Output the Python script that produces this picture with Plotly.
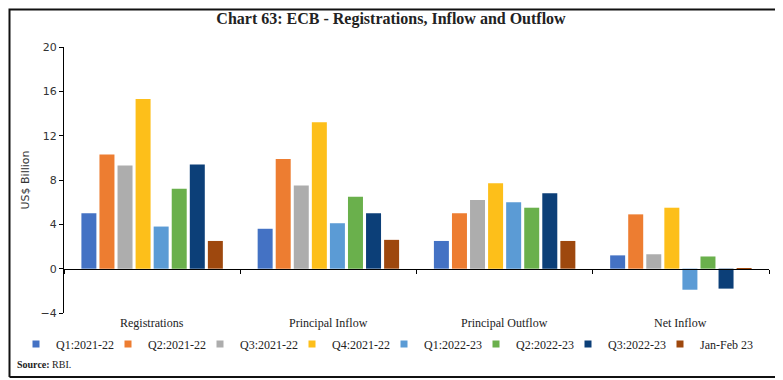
import plotly.graph_objects as go

categories = ["Registrations", "Principal Inflow", "Principal Outflow", "Net Inflow"]
series_names = ["Q1:2021-22", "Q2:2021-22", "Q3:2021-22", "Q4:2021-22",
                "Q1:2022-23", "Q2:2022-23", "Q3:2022-23", "Jan-Feb 23"]
q1_2122 = [5.0, 3.6, 2.5, 1.2]
q2_2122 = [10.3, 9.9, 5.0, 4.9]
q3_2122 = [9.3, 7.5, 6.2, 1.3]
q4_2122 = [15.3, 13.2, 7.7, 5.5]
q1_2223 = [3.8, 4.1, 6.0, -1.9]
q2_2223 = [7.2, 6.5, 5.5, 1.1]
q3_2223 = [9.4, 5.0, 6.8, -1.8]
janfeb_23 = [2.5, 2.6, 2.5, 0.05]
series_values = [q1_2122, q2_2122, q3_2122, q4_2122, q1_2223, q2_2223, q3_2223, janfeb_23]
colors = ["#4472C4", "#ED7D31", "#ADADAD", "#FDBF1A", "#5B9BD5", "#6AB04C", "#0C3F78", "#9E480E"]
y_ticks = [-4, 0, 4, 8, 12, 16, 20]
y_range = [-4, 20]

serif = "Liberation Serif"
sans = "DejaVu Sans"

# the page is shown with an 8px body margin: figure pixel = screen pixel - 8
OFF = 8
W, H = 775, 372

def fx(screen_x):
    return (screen_x - OFF) / W

def fy(screen_y):
    return (H - (screen_y - OFF)) / H

plot_x = [fx(64), fx(769)]
plot_y = [fy(313), fy(47)]
zero_pos = plot_y[0] + (0 - y_range[0]) / (y_range[1] - y_range[0]) * (plot_y[1] - plot_y[0])

STEP = 92
LEG_X = 16
legend_ids = ["legend"] + ["legend%d" % (i + 1) for i in range(1, len(series_names))]

fig = go.Figure()
for name, vals, col in zip(series_names, series_values, colors):
    fig.add_trace(go.Bar(x=categories, y=vals, name=name, marker_color=col,
                         marker_line_width=0, showlegend=False, legendgroup=name))
for name, col, lg in zip(series_names, colors, legend_ids):
    fig.add_trace(go.Scatter(x=[None], y=[None], mode="markers", name=name, legendgroup=name,
                             legend=lg, marker=dict(symbol="square", size=7, color=col)))

# outer frame drawn in a full-figure pixel subplot
fl, fr = 1.5, 779 - OFF
ft, fb = H - 1.5, H - (377 - OFF)
fig.add_trace(go.Scatter(x=[fl, fr, fr, fl, fl], y=[fb, fb, ft, ft, fb], mode="lines",
                         xaxis="x2", yaxis="y2", line=dict(color="#111", width=2),
                         showlegend=False, hoverinfo="skip", cliponaxis=False))

legend_font = dict(family=serif, size=12, color="#222")
legends = {
    lg: dict(orientation="h", x=fx(LEG_X + i * STEP), y=fy(344), xanchor="left",
             yanchor="middle", font=legend_font, itemwidth=30, tracegroupgap=0,
             bgcolor="rgba(0,0,0,0)")
    for i, lg in enumerate(legend_ids)
}

fig.update_layout(
    width=W, height=H,
    margin=dict(l=0, r=0, t=0, b=0, pad=0, autoexpand=False),
    paper_bgcolor="white", plot_bgcolor="rgba(0,0,0,0)",
    barmode="group", bargap=0.18, bargroupgap=0.17,
    title=dict(text="<b>Chart 63: ECB - Registrations, Inflow and Outflow</b>",
               x=fx(391), xref="container", xanchor="center",
               y=fy(18), yref="container", yanchor="middle",
               font=dict(family=serif, size=16, color="#222")),
    showlegend=True,
    xaxis=dict(domain=plot_x, anchor="free", position=zero_pos, showline=True,
               linecolor="black", linewidth=1, ticks="outside", tickson="boundaries",
               ticklen=4, tickcolor="black", showticklabels=False, showgrid=False,
               automargin=False),
    yaxis=dict(domain=plot_y, range=y_range, tickvals=y_ticks, showline=True,
               linecolor="black", linewidth=1, ticks="outside", ticklen=4, tickcolor="black",
               showgrid=False, zeroline=False, automargin=False,
               tickfont=dict(family=sans, size=11, color="#333"),
               title=dict(text="US$ Billion", font=dict(family=sans, size=11, color="#333"),
                          standoff=8)),
    xaxis2=dict(domain=[0, 1], range=[0, W], anchor="y2", visible=False, fixedrange=True),
    yaxis2=dict(domain=[0, 1], range=[0, H], anchor="x2", visible=False, fixedrange=True),
    **legends,
)

for c in categories:
    fig.add_annotation(x=c, xref="x", y=fy(323), yref="paper", text=c, showarrow=False,
                       yanchor="middle", font=dict(family=serif, size=12, color="#222"))

fig.add_annotation(x=fx(15), xref="paper", y=fy(364), yref="paper",
                   text="<b>Source:</b> RBI.", showarrow=False, xanchor="left", yanchor="middle",
                   font=dict(family=serif, size=10, color="#222"))

fig.write_html("out.html")
